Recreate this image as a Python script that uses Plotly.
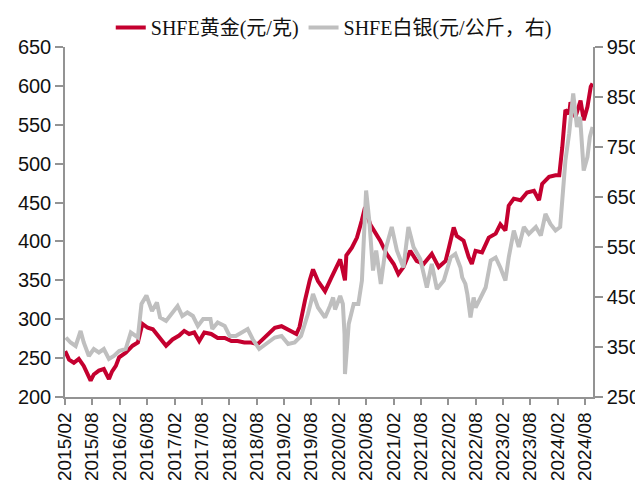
import plotly.graph_objects as go

# SHFE gold, yuan/gram
gold_dates = [
    "2015-02-02", "2015-02-28", "2015-04-01", "2015-05-04", "2015-06-06", "2015-07-22",
    "2015-08-12", "2015-09-15", "2015-10-18", "2015-11-21", "2015-12-12", "2016-01-06",
    "2016-01-28", "2016-03-12", "2016-04-27", "2016-06-01", "2016-07-01", "2016-08-06",
    "2016-09-09", "2016-10-21", "2016-12-06", "2017-01-18", "2017-03-03", "2017-04-06",
    "2017-05-09", "2017-06-12", "2017-07-15", "2017-08-18", "2017-10-03", "2017-11-15",
    "2018-01-01", "2018-02-15", "2018-03-28", "2018-05-12", "2018-06-27", "2018-08-09",
    "2018-09-12", "2018-10-15", "2018-12-01", "2019-01-15", "2019-02-28", "2019-04-24",
    "2019-05-15", "2019-06-06", "2019-06-20", "2019-07-22", "2019-08-13", "2019-09-15",
    "2019-09-28", "2019-11-01", "2019-12-15", "2020-01-18", "2020-02-10", "2020-03-13",
    "2020-03-22", "2020-04-28", "2020-06-01", "2020-07-03", "2020-07-25", "2020-08-28",
    "2020-10-01", "2020-11-03", "2020-12-16", "2021-02-01", "2021-03-04", "2021-04-07",
    "2021-05-22", "2021-07-04", "2021-08-19", "2021-10-13", "2021-11-28", "2022-01-13",
    "2022-02-04", "2022-03-08", "2022-03-28", "2022-05-13", "2022-06-16", "2022-07-07",
    "2022-08-01", "2022-09-13", "2022-10-28", "2022-12-13", "2023-01-13", "2023-02-16",
    "2023-03-10", "2023-04-13", "2023-05-28", "2023-07-10", "2023-08-25", "2023-09-28",
    "2023-10-19", "2023-12-04", "2024-01-16", "2024-02-10", "2024-03-01", "2024-03-22",
    "2024-04-16", "2024-04-25", "2024-05-28", "2024-07-01", "2024-07-22", "2024-08-16",
    "2024-09-07", "2024-09-19",
]
gold_values = [
    259, 248, 244, 249, 240, 221,
    229, 234, 236, 223, 233, 240,
    251, 257, 266, 270, 294, 289,
    287, 276, 266, 274, 279, 285,
    281, 283, 272, 283, 281, 276,
    276, 272, 272, 270, 270, 268,
    274, 281, 289, 291, 287, 281,
    290, 312, 324, 350, 364, 349,
    345, 336, 354, 367, 377, 350,
    382, 392, 405, 427, 444, 422,
    412, 401, 384, 371, 358, 367,
    388, 375, 371, 384, 367, 375,
    392, 418, 407, 401, 380, 371,
    388, 386, 405, 410, 422, 414,
    446, 455, 453, 463, 465, 453,
    474, 483, 485, 485, 521, 569,
    564, 579, 560, 581, 556, 573,
    599, 603,
]

# SHFE silver, right axis
silver_dates = [
    "2015-02-07", "2015-03-10", "2015-04-13", "2015-05-16", "2015-06-06", "2015-07-10",
    "2015-08-12", "2015-09-15", "2015-10-18", "2015-11-21", "2015-12-24", "2016-01-28",
    "2016-03-12", "2016-04-15", "2016-06-01", "2016-06-25", "2016-07-28", "2016-09-03",
    "2016-10-06", "2016-10-27", "2016-12-06", "2017-01-18", "2017-02-21", "2017-03-24",
    "2017-04-27", "2017-06-03", "2017-07-06", "2017-08-10", "2017-09-28", "2017-10-10",
    "2017-11-15", "2018-01-01", "2018-02-03", "2018-03-16", "2018-04-19", "2018-06-03",
    "2018-07-06", "2018-08-19", "2018-10-03", "2018-12-01", "2019-01-15", "2019-02-28",
    "2019-04-13", "2019-05-25", "2019-07-10", "2019-08-13", "2019-09-15", "2019-11-01",
    "2019-12-04", "2019-12-25", "2020-01-07", "2020-02-10", "2020-02-28", "2020-03-10",
    "2020-03-13", "2020-03-28", "2020-04-07", "2020-05-10", "2020-06-10", "2020-07-04",
    "2020-08-01", "2020-08-22", "2020-09-16", "2020-10-07", "2020-11-07", "2020-12-07",
    "2021-01-19", "2021-02-22", "2021-04-07", "2021-05-10", "2021-06-13", "2021-07-28",
    "2021-09-10", "2021-10-13", "2021-11-16", "2022-01-01", "2022-01-13", "2022-02-16",
    "2022-03-19", "2022-04-22", "2022-05-04", "2022-05-25", "2022-06-07", "2022-06-28",
    "2022-07-19", "2022-08-01", "2022-09-04", "2022-10-07", "2022-11-10", "2022-12-13",
    "2023-01-13", "2023-02-16", "2023-03-10", "2023-04-13", "2023-05-16", "2023-06-19",
    "2023-07-22", "2023-09-07", "2023-10-10", "2023-11-10", "2023-12-13", "2024-01-16",
    "2024-02-16", "2024-03-04", "2024-03-22", "2024-04-16", "2024-05-13", "2024-06-07",
    "2024-06-28", "2024-07-22", "2024-08-16", "2024-09-01", "2024-09-19",
]
silver_values = [
    369, 359, 352, 382, 359, 332,
    346, 339, 346, 326, 332, 342,
    346, 379, 369, 436, 453, 422,
    439, 409, 402, 419, 432, 412,
    419, 412, 392, 406, 406, 386,
    399, 392, 372, 372, 379, 386,
    366, 346, 356, 369, 372, 356,
    359, 372, 416, 456, 429, 409,
    432, 449, 425, 452, 436, 376,
    296, 376, 396, 436, 436, 483,
    663, 603, 503, 543, 476, 543,
    590, 543, 509, 590, 550, 526,
    469, 516, 466, 483, 496, 529,
    536, 509, 489, 476, 456, 409,
    449, 429, 449, 469, 523, 529,
    509, 483, 529, 583, 550, 590,
    576, 590, 573, 616, 596, 583,
    590, 657, 723, 777, 857, 790,
    810, 703, 730, 770, 790,
]

tick_dates = [
    "2015-02-01", "2015-08-01", "2016-02-01", "2016-08-01", "2017-02-01",
    "2017-08-01", "2018-02-01", "2018-08-01", "2019-02-01", "2019-08-01",
    "2020-02-01", "2020-08-01", "2021-02-01", "2021-08-01", "2022-02-01",
    "2022-08-01", "2023-02-01", "2023-08-01", "2024-02-01", "2024-08-01",
]
tick_labels = [
    "2015/02", "2015/08", "2016/02", "2016/08", "2017/02",
    "2017/08", "2018/02", "2018/08", "2019/02", "2019/08",
    "2020/02", "2020/08", "2021/02", "2021/08", "2022/02",
    "2022/08", "2023/02", "2023/08", "2024/02", "2024/08",
]

RED = "#C4002F"
GREY = "#BFBFBF"
AXIS = "#939393"
TICK_FONT = dict(family="Liberation Sans, Arial, sans-serif", size=20, color="#111111")

fig = go.Figure()
fig.add_trace(go.Scatter(x=gold_dates, y=gold_values, mode="lines",
                         name="SHFE黄金(元/克)", line=dict(color=RED, width=4)))
fig.add_trace(go.Scatter(x=silver_dates, y=silver_values, mode="lines", yaxis="y2",
                         name="SHFE白银(元/公斤，右)", line=dict(color=GREY, width=4)))

axis_style = dict(ticks="outside", ticklen=8, tickcolor=AXIS, tickwidth=1.5,
                  showline=True, linecolor=AXIS, linewidth=1.5,
                  showgrid=False, zeroline=False, tickfont=TICK_FONT, automargin=False)

# the page body adds an 8px margin, so the figure is 8px smaller than the window
fig.update_layout(
    width=635, height=479,
    margin=dict(l=57, r=50, t=39, b=90, autoexpand=False),
    paper_bgcolor="white", plot_bgcolor="white",
    showlegend=True,
    legend=dict(orientation="h", xref="container", yref="container",
                x=0.513, xanchor="center", y=1.0, yanchor="top",
                font=dict(family="Liberation Serif, Noto Sans CJK SC, serif", size=20, color="#111111"),
                itemwidth=30, bgcolor="rgba(0,0,0,0)"),
    xaxis=dict(type="date", range=["2015-02-01", "2024-09-22"],
               tickmode="array", tickvals=tick_dates, ticktext=tick_labels, tickangle=-90,
               **dict(axis_style, ticklen=6, tickfont=dict(TICK_FONT, size=19))),
    yaxis=dict(range=[200, 650], dtick=50, tick0=200, **axis_style),
    yaxis2=dict(range=[250, 950], dtick=100, tick0=250, overlaying="y", side="right",
                **axis_style),
)

fig.write_html("out.html")
